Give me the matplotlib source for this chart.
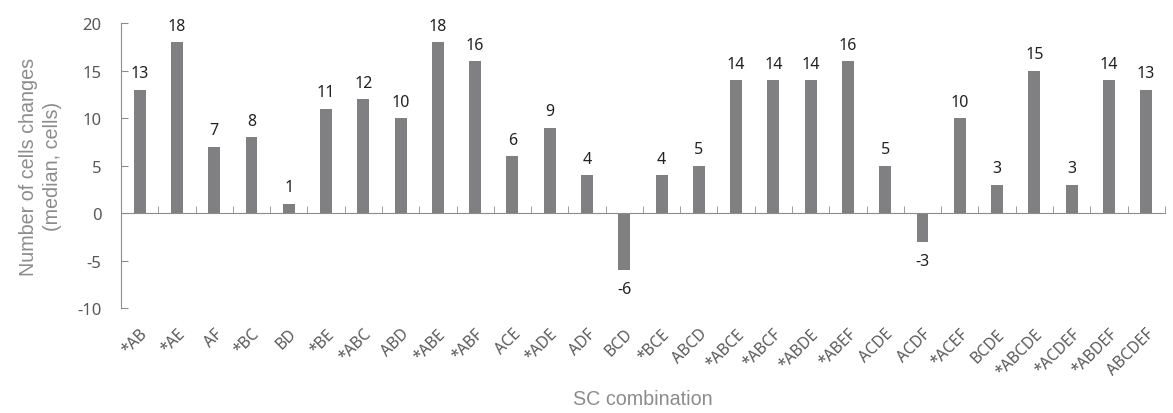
import numpy as np
import matplotlib
matplotlib.use("Agg")
import matplotlib.pyplot as plt
from matplotlib.ticker import FixedLocator

plt.rcParams["axes.unicode_minus"] = False

# Data
combos = ["*AB", "*AE", "AF", "*BC", "BD", "*BE", "*ABC", "ABD", "*ABE", "*ABF",
          "ACE", "*ADE", "ADF", "BCD", "*BCE", "ABCD", "*ABCE", "*ABCF", "*ABDE",
          "*ABEF", "ACDE", "ACDF", "*ACEF", "BCDE", "*ABCDE", "*ACDEF", "*ABDEF",
          "ABCDEF"]
medians = [13, 18, 7, 8, 1, 11, 12, 10, 18, 16,
           6, 9, 4, -6, 4, 5, 14, 14, 14,
           16, 5, -3, 10, 3, 15, 3, 14,
           13]

bar_color = "#808083"
axis_gray = "#8c8c8c"
text_gray = "#595959"

fig = plt.figure(figsize=(11.73, 4.14), dpi=100)
ax = fig.add_axes([0.1032, 0.2536, 0.8898, 0.6884])

x = np.arange(len(combos))
bars = ax.bar(x, medians, width=0.32, color=bar_color, zorder=2)

# value labels above / below bars
for xi, v in zip(x, medians):
    if v >= 0:
        ax.annotate(str(v), (xi, v), xytext=(0, 6), textcoords="offset points",
                    ha="center", va="bottom", fontsize=11.5, color="#222222",
                    family="Noto Sans")
    else:
        ax.annotate(str(v), (xi, v), xytext=(0, -8), textcoords="offset points",
                    ha="center", va="top", fontsize=11.5, color="#222222",
                    family="Noto Sans")

ax.set_xlim(-0.5, len(combos) - 0.5)
ax.set_ylim(-10, 20)
ax.set_yticks([-10, -5, 0, 5, 10, 15, 20])
ax.tick_params(axis="y", direction="in", length=5, color=axis_gray,
               labelsize=12, labelcolor=text_gray, pad=14)
for lab in ax.get_yticklabels():
    lab.set_family("Noto Sans")

# x axis line sits at zero, labels pushed below the plot area
ax.spines["bottom"].set_position(("data", 0))
ax.spines["bottom"].set_color(axis_gray)
ax.spines["left"].set_color(axis_gray)
ax.spines["top"].set_visible(False)
ax.spines["right"].set_visible(False)

ax.set_xticks(x)
ax.set_xticklabels(combos, rotation=45, ha="right", rotation_mode="anchor",
                   fontsize=11.3, color=text_gray, family="Noto Sans")
ax.tick_params(axis="x", which="major", length=0, pad=81)
ax.xaxis.set_minor_locator(FixedLocator(np.arange(len(combos) + 1) - 0.5))
ax.tick_params(axis="x", which="minor", direction="in", length=5, color=axis_gray)

ax.set_ylabel("Number of cells changes\n(median, cells)", fontsize=14.2,
              color=axis_gray, family="Liberation Sans", labelpad=11,
              linespacing=1.3)
fig.text(0.548, 0.034, "SC combination", ha="center", va="center",
         fontsize=14.2, color=axis_gray, family="Liberation Sans")

fig.savefig("out.png", dpi=100)
